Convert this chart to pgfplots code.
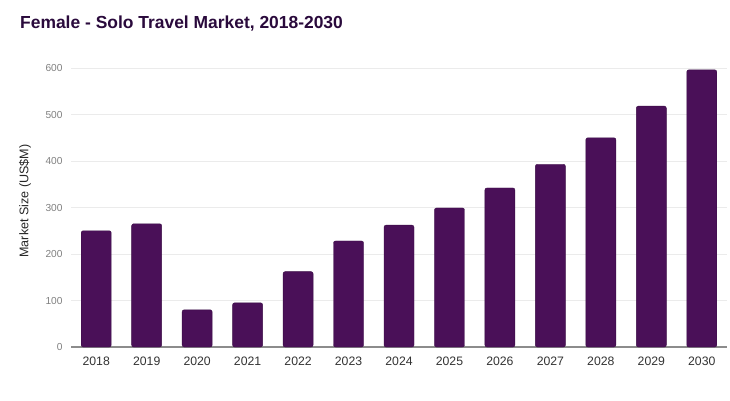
\documentclass[border=0pt]{standalone}
\usepackage{fontspec}
\setmainfont{Liberation Sans}
\usepackage{pgfplots}
\pgfplotsset{compat=1.18}
\definecolor{barpurple}{HTML}{4A1058}
\definecolor{titlepurple}{HTML}{2A0A3C}
\begin{document}
\begin{tikzpicture}[x=1bp,y=1bp]
\useasboundingbox[fill=white] (0,0) rectangle (730,400);
\node[anchor=base west, font=\bfseries\fontsize{17.5}{20}\selectfont, text=titlepurple, inner sep=0pt] at (20,372) {Female - Solo Travel Market, 2018-2030};
\node[rotate=90, font=\fontsize{12.6}{14}\selectfont, text=black!85, inner sep=0pt] at (25,199) {Market Size (US\$M)};
\begin{axis}[
    at={(71bp,53bp)}, anchor=south west,
    scale only axis,
    width=656bp, height=279bp,
    xmin=-0.5, xmax=12.5,
    ymin=0, ymax=600,
    ytick={0,100,...,600},
    xtick=data,
    xticklabels={2018,2019,2020,2021,2022,2023,2024,2025,2026,2027,2028,2029,2030},
    axis x line*=bottom,
    axis y line*=left,
    x axis line style={draw=none},
    y axis line style={draw=none},
    tick style={draw=none},
    ymajorgrids,
    grid style={color=black!8, line width=0.8bp},
    yticklabel style={font=\fontsize{10.2}{11}\selectfont, text=black!50, xshift=-5bp},
    xticklabel style={font=\fontsize{12.3}{13}\selectfont, text=black!80, yshift=-2bp},
    /pgf/number format/assume math mode=true,
    ybar, bar width=30bp,
    clip=false,
]
\pgfplotsextra{\draw[color=black!45, line width=1.2bp] (axis cs:-0.5,0) -- (axis cs:12.5,0);}
\addplot[fill=barpurple, draw=barpurple!80!black, line width=0.4bp, rounded corners=2bp] coordinates {
    (0,250) (1,265) (2,80) (3,95) (4,162) (5,228) (6,262)
    (7,299) (8,342) (9,393) (10,450) (11,518) (12,596)
};
\end{axis}
\end{tikzpicture}
\end{document}
